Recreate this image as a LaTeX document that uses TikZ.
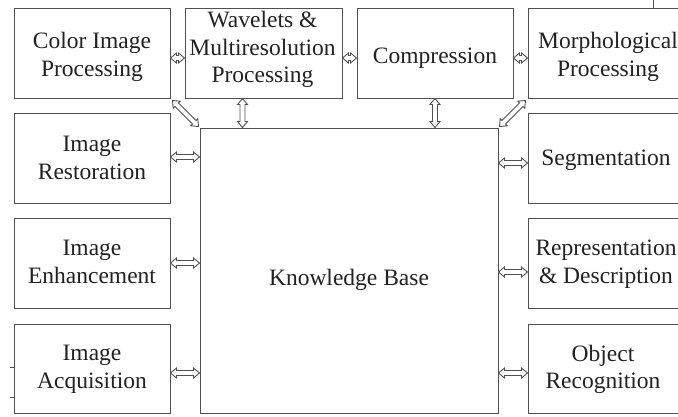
\documentclass[tikz,border=0pt]{standalone}
\usepackage{fontspec}
\setmainfont{Liberation Serif}
\usetikzlibrary{calc}
\definecolor{linegray}{HTML}{505050}
\definecolor{txt}{HTML}{222222}
\tikzset{
  box/.style={draw=linegray, line width=1pt, fill=white, inner sep=0pt},
  lbl/.style={text=txt, align=center, font=\fontsize{23.5}{27.5}\selectfont, inner sep=0pt},
  blk/.style={draw=linegray, fill=white, line width=0.9pt, line join=miter, to path={
    -- ($(\tikztostart)!6pt!(\tikztotarget)!5pt!90:(\tikztotarget)$)
    -- ($(\tikztostart)!6pt!(\tikztotarget)!2.5pt!90:(\tikztotarget)$)
    -- ($(\tikztotarget)!6pt!(\tikztostart)!2.5pt!-90:(\tikztostart)$)
    -- ($(\tikztotarget)!6pt!(\tikztostart)!5pt!-90:(\tikztostart)$)
    -- (\tikztotarget)
    -- ($(\tikztotarget)!6pt!(\tikztostart)!5pt!90:(\tikztostart)$)
    -- ($(\tikztotarget)!6pt!(\tikztostart)!2.5pt!90:(\tikztostart)$)
    -- ($(\tikztostart)!6pt!(\tikztotarget)!2.5pt!-90:(\tikztotarget)$)
    -- ($(\tikztostart)!6pt!(\tikztotarget)!5pt!-90:(\tikztotarget)$)
    -- cycle}}
}
\begin{document}
\begin{tikzpicture}[x=1pt,y=-1pt]
\useasboundingbox (0,0) rectangle (678,416);
% top row
\node[box, minimum width=156pt, minimum height=90pt, label={[lbl,yshift=-4pt]center:{Color Image\\Processing}}] (color) at (92,53) {};
\node[box, minimum width=157pt, minimum height=90pt, label={[lbl,yshift=3.5pt,xshift=-1pt]center:{Wavelets \&\\Multiresolution\\Processing}}] (wave) at (263.5,53) {};
\node[box, minimum width=156pt, minimum height=90pt, label={[lbl,yshift=-5pt]center:{Compression}}] (comp) at (435,53) {};
\node[box, minimum width=160pt, minimum height=90pt, label={[lbl,yshift=-4pt]center:{Morphological\\Processing}}] (morph) at (608,53) {};
% knowledge base
\node[box, minimum width=298pt, minimum height=285pt, label={[lbl,yshift=-9pt]center:{Knowledge Base}}] (kb) at (349,270.5) {};
% left column
\node[box, minimum width=156pt, minimum height=90pt, label={[lbl]center:{Image\\Restoration}}] (rest) at (92,158) {};
\node[box, minimum width=156pt, minimum height=90pt, label={[lbl,yshift=1pt]center:{Image\\Enhancement}}] (enh) at (92,263) {};
\node[box, minimum width=156pt, minimum height=89pt, label={[lbl,yshift=-1pt]center:{Image\\Acquisition}}] (acq) at (92,368.5) {};
% right column
\node[box, minimum width=160pt, minimum height=90pt, label={[lbl,yshift=-2pt,xshift=-2pt]center:{Segmentation}}] (seg) at (608,158) {};
\node[box, minimum width=160pt, minimum height=90pt, label={[lbl,yshift=-1pt,xshift=-2pt]center:{Representation\\\& Description}}] (rep) at (608,263) {};
\node[box, minimum width=160pt, minimum height=89pt, label={[lbl,yshift=-1pt,xshift=-5pt]center:{Object\\Recognition}}] (obj) at (608,368.5) {};
% top horizontal arrows
\draw[blk] ([yshift=-5pt]color.east) to ([yshift=-5pt]wave.west);
\draw[blk] ([yshift=-5pt]wave.east) to ([yshift=-5pt]comp.west);
\draw[blk] ([yshift=-5pt]comp.east) to ([yshift=-5pt]morph.west);
% diagonals and verticals
\draw[blk] ([shift={(2pt,-2pt)}]color.south east) to ([shift={(-1pt,1pt)}]kb.north west);
\draw[blk] ([shift={(-2pt,-2pt)}]morph.south west) to ([shift={(1pt,1pt)}]kb.north east);
\draw[blk] ([xshift=-21pt]wave.south) to ([xshift=-21pt]wave.south |- kb.north);
\draw[blk] (comp.south) to (comp.south |- kb.north);
% left arrows
\draw[blk] ([yshift=1pt]rest.east) to ([yshift=1pt]rest.east -| kb.west);
\draw[blk] (enh.east) to (enh.east -| kb.west);
\draw[blk] ([yshift=-4.5pt]acq.east) to ([yshift=-4.5pt]acq.east -| kb.west);
% right arrows
\draw[blk] ([yshift=-5pt]seg.west) to ([yshift=-5pt]seg.west -| kb.east);
\draw[blk] ([yshift=-9pt]rep.west) to ([yshift=-9pt]rep.west -| kb.east);
\draw[blk] ([yshift=-4.5pt]obj.west) to ([yshift=-4.5pt]obj.west -| kb.east);
% small marks
\coordinate (t1) at (653,0);
\draw[linegray, line width=0.8pt] (t1) -- (morph.north -| t1);
\coordinate (l1) at (10,367);
\draw[linegray, line width=0.8pt] (l1) -- (l1 -| acq.west);
\coordinate (l2) at (10,397);
\draw[linegray, line width=0.8pt] (l2) -- (l2 -| acq.west);
\end{tikzpicture}
\end{document}
